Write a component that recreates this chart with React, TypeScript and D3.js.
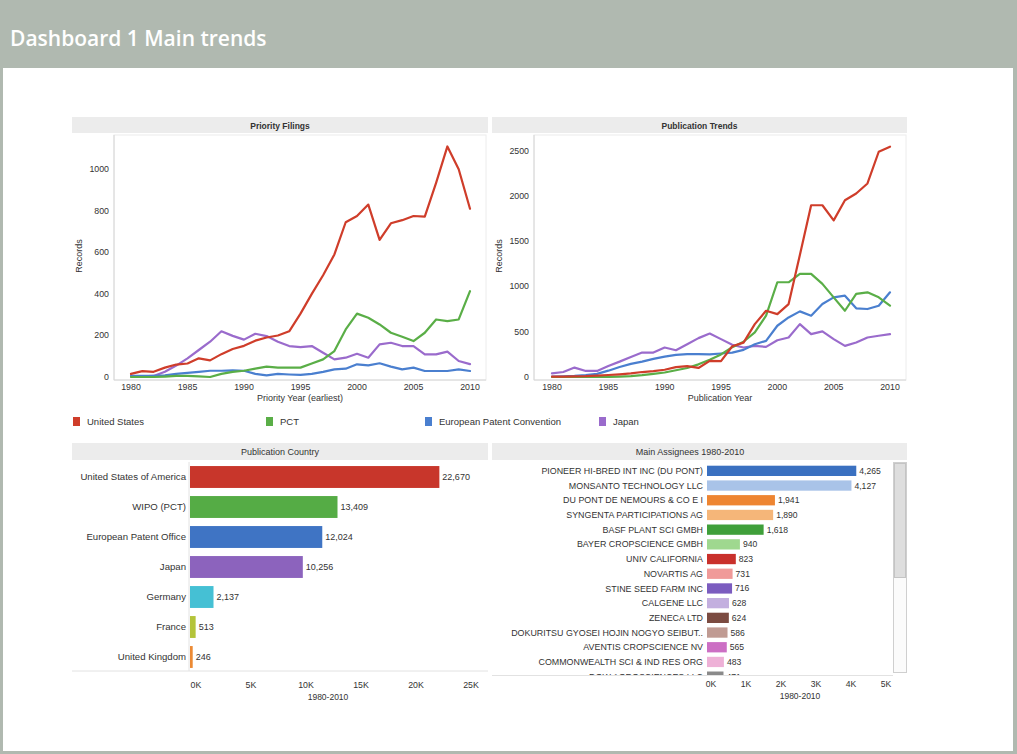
import * as d3 from "d3";

// ---- data ----
const years = [
  1980, 1981, 1982, 1983, 1984, 1985, 1986, 1987, 1988, 1989, 1990,
  1991, 1992, 1993, 1994, 1995, 1996, 1997, 1998, 1999, 2000,
  2001, 2002, 2003, 2004, 2005, 2006, 2007, 2008, 2009, 2010,
];

const seriesNames = ["United States", "PCT", "European Patent Convention", "Japan"];
const seriesColors = ["#cf3d2a", "#5aae47", "#4a7fcf", "#9a6bcc"];

const priorityUS = [15, 28, 25, 45, 60, 65, 90, 80, 110, 135, 150, 175, 190, 200, 220, 305, 400, 490, 590, 745, 775, 830, 660, 740, 755, 775, 772, 935, 1110, 1000, 810];
const priorityPCT = [0, 0, 0, 2, 5, 5, 3, 0, 15, 25, 30, 40, 50, 45, 45, 45, 65, 85, 125, 229, 305, 285, 253, 213, 194, 173, 213, 277, 269, 277, 413];
const priorityEPC = [5, 5, 5, 8, 15, 20, 25, 30, 30, 32, 30, 15, 8, 15, 12, 10, 15, 25, 37, 40, 61, 56, 66, 50, 37, 45, 29, 29, 29, 37, 29];
const priorityJP = [3, 3, 5, 25, 55, 90, 130, 170, 220, 198, 180, 208, 197, 170, 149, 144, 149, 117, 85, 93, 112, 93, 157, 165, 149, 149, 109, 109, 122, 77, 62];

const pubUS = [5, 5, 8, 10, 15, 22, 30, 40, 55, 65, 80, 110, 120, 100, 178, 175, 340, 380, 585, 733, 696, 807, 1350, 1900, 1900, 1733, 1955, 2030, 2141, 2492, 2548];
const pubPCT = [0, 0, 0, 0, 0, 2, 5, 10, 20, 35, 50, 75, 100, 140, 190, 250, 330, 390, 493, 678, 1048, 1048, 1141, 1141, 1030, 881, 733, 919, 937, 881, 789];
const pubEPC = [5, 8, 12, 20, 35, 70, 110, 145, 170, 200, 225, 245, 252, 252, 250, 260, 270, 300, 363, 400, 567, 659, 726, 678, 807, 881, 900, 760, 752, 789, 937];
const pubJP = [40, 55, 104, 67, 67, 122, 170, 222, 270, 270, 326, 296, 363, 430, 481, 419, 356, 326, 344, 333, 407, 437, 585, 474, 504, 419, 344, 381, 437, 456, 474];

const yearTicks = [1980, 1985, 1990, 1995, 2000, 2005, 2010];
const priorityTicks = [0, 200, 400, 600, 800, 1000];
const pubTicks = [0, 500, 1000, 1500, 2000, 2500];

const countryNames = ["United States of America", "WIPO (PCT)", "European Patent Office", "Japan", "Germany", "France", "United Kingdom"];
const countryValues = [22670, 13409, 12024, 10256, 2137, 513, 246];
const countryColors = ["#c8362b", "#55ac45", "#3f74c4", "#8c63bd", "#45c0d4", "#b4c43a", "#ec8a34"];
const countryTicks = [0, 5000, 10000, 15000, 20000, 25000];

const assigneeNames = [
  "PIONEER HI-BRED INT INC (DU PONT)",
  "MONSANTO TECHNOLOGY LLC",
  "DU PONT DE NEMOURS & CO E I",
  "SYNGENTA PARTICIPATIONS AG",
  "BASF PLANT SCI GMBH",
  "BAYER CROPSCIENCE GMBH",
  "UNIV CALIFORNIA",
  "NOVARTIS AG",
  "STINE SEED FARM INC",
  "CALGENE LLC",
  "ZENECA LTD",
  "DOKURITSU GYOSEI HOJIN NOGYO SEIBUT..",
  "AVENTIS CROPSCIENCE NV",
  "COMMONWEALTH SCI & IND RES ORG",
  "DOW AGROSCIENCES LLC",
];
const assigneeValues = [4265, 4127, 1941, 1890, 1618, 940, 823, 731, 716, 628, 624, 586, 565, 483, 471];
const assigneeColors = [
  "#3a70c0", "#a9c3e8", "#ee8531", "#f5b679", "#3f9f3a", "#9fd88f", "#c9302b", "#f09a99",
  "#7b5cbf", "#c3afdf", "#7b4b41", "#c09b93", "#cc6fc4", "#eeb1d7", "#8a8a8a",
];
const assigneeTicks = [0, 1000, 2000, 3000, 4000, 5000];

const FONT = "'Liberation Sans', Arial, sans-serif";
const TXT = "#333";

type LineProps = {
  panelX: number;
  panelW: number;
  plotL: number;
  plotR: number;
  x0: number;
  x1: number;
  yMax: number;
  yTicks: number[];
  title: string;
  xTitle: string;
  series: number[][];
};

function LinePanel({ panelX, panelW, plotL, plotR, x0, x1, yMax, yTicks, title, xTitle, series }: LineProps) {
  const plotT = 135;
  const plotB = 377;
  const x = d3.scaleLinear().domain([1980, 2010]).range([x0, x1]);
  const y = d3.scaleLinear().domain([0, yMax]).range([plotB, 140]);
  const line = d3
    .line<number>()
    .x((_, i) => x(years[i]))
    .y((d) => y(d));
  const order = [3, 2, 1, 0];
  return (
    <g>
      <rect x={panelX} y={117} width={panelW} height={16} fill="#ececec" />
      <text x={panelX + panelW / 2} y={128.5} textAnchor="middle" fontSize={8.5} fontWeight="bold" fill={TXT}>
        {title}
      </text>
      <rect x={plotL} y={plotT} width={plotR - plotL} height={plotB + 3 - plotT} fill="none" stroke="#ececec" />
      <line x1={plotL} x2={plotL} y1={plotT} y2={plotB + 3} stroke="#d6d6d6" />
      <line x1={plotL} x2={plotR} y1={plotB + 3} y2={plotB + 3} stroke="#d6d6d6" />
      {yTicks.map((t) => (
        <text key={t} x={plotL - 5} y={y(t)} dy="0.32em" textAnchor="end" fontSize={8.8} fill={TXT}>
          {t}
        </text>
      ))}
      {yearTicks.map((t) => (
        <text key={t} x={x(t)} y={plotB + 13} textAnchor="middle" fontSize={8.8} fill={TXT}>
          {t}
        </text>
      ))}
      <text
        transform={`translate(${panelX + 10},${(plotT + plotB) / 2}) rotate(-90)`}
        textAnchor="middle"
        fontSize={9}
        fill={TXT}
      >
        Records
      </text>
      <text x={(plotL + plotR) / 2} y={plotB + 24} textAnchor="middle" fontSize={9} fill={TXT}>
        {xTitle}
      </text>
      {order.map((k) => (
        <path
          key={k}
          d={line(series[k]) || ""}
          fill="none"
          stroke={seriesColors[k]}
          strokeWidth={2.2}
          strokeLinejoin="round"
          strokeLinecap="round"
        />
      ))}
    </g>
  );
}

function Legend() {
  const xs = [73, 266, 425, 599];
  return (
    <g>
      {seriesNames.map((n, i) => (
        <g key={n}>
          <rect x={xs[i]} y={417} width={7} height={9} fill={seriesColors[i]} />
          <text x={xs[i] + 14} y={424.5} fontSize={9.5} fill={TXT}>
            {n}
          </text>
        </g>
      ))}
    </g>
  );
}

function CountryPanel() {
  const y = d3.scaleBand<string>().domain(countryNames).range([462, 672]).paddingInner(0.27).paddingOuter(0.135);
  const x = d3.scaleLinear().domain([0, 25000]).range([190, 465]);
  const fmt = d3.format(",");
  return (
    <g>
      <rect x={72} y={443} width={416} height={17} fill="#ececec" />
      <text x={280} y={455} textAnchor="middle" fontSize={9} fill={TXT}>
        Publication Country
      </text>
      <line x1={189} x2={189} y1={462} y2={671} stroke="#e2e2e2" />
      <line x1={72} x2={488} y1={671} y2={671} stroke="#e2e2e2" />
      {countryNames.map((n, i) => (
        <g key={n}>
          <text x={186} y={(y(n) || 0) + y.bandwidth() / 2} dy="0.32em" textAnchor="end" fontSize={9.6} fill={TXT}>
            {n}
          </text>
          <rect
            x={x(0)}
            y={y(n)}
            width={x(countryValues[i]) - x(0)}
            height={y.bandwidth()}
            fill={countryColors[i]}
          />
          <text
            x={x(countryValues[i]) + 3}
            y={(y(n) || 0) + y.bandwidth() / 2}
            dy="0.32em"
            fontSize={9}
            fill={TXT}
          >
            {fmt(countryValues[i])}
          </text>
        </g>
      ))}
      {countryTicks.map((t) => (
        <text key={t} x={x(t) + 6} y={688} textAnchor="middle" fontSize={8.8} fill={TXT}>
          {t / 1000}K
        </text>
      ))}
      <text x={328} y={700} textAnchor="middle" fontSize={8.5} fill={TXT}>
        1980-2010
      </text>
    </g>
  );
}

function AssigneePanel() {
  const step = 14.7;
  const y = d3
    .scaleBand<string>()
    .domain(assigneeNames)
    .range([463.5, 463.5 + step * assigneeNames.length])
    .paddingInner(0.3)
    .paddingOuter(0.15);
  const x = d3.scaleLinear().domain([0, 5000]).range([707, 882]);
  const fmt = d3.format(",");
  return (
    <g>
      <defs>
        <clipPath id="assignee-clip">
          <rect x={490} y={461} width={403} height={214} />
        </clipPath>
      </defs>
      <rect x={492} y={443} width={415} height={17} fill="#ececec" />
      <text x={690} y={455} textAnchor="middle" fontSize={9} fill={TXT}>
        Main Assignees 1980-2010
      </text>
      <g clipPath="url(#assignee-clip)">
        {assigneeNames.map((n, i) => {
          const cy = (y(n) || 0) + y.bandwidth() / 2;
          return (
            <g key={n}>
              <text x={703} y={cy} dy="0.35em" textAnchor="end" fontSize={8.9} fill={TXT}>
                {n}
              </text>
              <rect
                x={x(0)}
                y={y(n)}
                width={x(assigneeValues[i]) - x(0)}
                height={y.bandwidth()}
                fill={assigneeColors[i]}
              />
              <text x={x(assigneeValues[i]) + 3} y={cy} dy="0.35em" fontSize={8.6} fill={TXT}>
                {fmt(assigneeValues[i])}
              </text>
            </g>
          );
        })}
      </g>
      <line x1={492} x2={893} y1={675.5} y2={675.5} stroke="#e2e2e2" />
      <rect x={893.5} y={462.5} width={13} height={210} fill="#fbfbfb" stroke="#cfcfcf" />
      <rect x={894.5} y={463.5} width={11} height={114} fill="#dedede" stroke="#c4c4c4" />
      {assigneeTicks.map((t) => (
        <text key={t} x={x(t) + 4} y={687} textAnchor="middle" fontSize={8.6} fill={TXT}>
          {t / 1000}K
        </text>
      ))}
      <text x={800} y={699} textAnchor="middle" fontSize={8.5} fill={TXT}>
        1980-2010
      </text>
    </g>
  );
}

export default function App() {
  return (
    <svg
      width={1017}
      height={754}
      style={{ position: "absolute", left: 0, top: 0, fontFamily: FONT }}
    >
      <rect x={0} y={0} width={1017} height={754} fill="#b0b9b0" />
      <rect x={3} y={68} width={1010} height={683} fill="#ffffff" />
      <text
        x={10}
        y={46}
        fill="#ffffff"
        fontSize={21}
        fontWeight={600}
        style={{ fontFamily: "'Open Sans', sans-serif" }}
      >
        Dashboard 1 Main trends
      </text>
      <LinePanel
        panelX={72}
        panelW={416}
        plotL={114}
        plotR={486}
        x0={131}
        x1={470}
        yMax={1141}
        yTicks={priorityTicks}
        title="Priority Filings"
        xTitle="Priority Year (earliest)"
        series={[priorityUS, priorityPCT, priorityEPC, priorityJP]}
      />
      <LinePanel
        panelX={492}
        panelW={415}
        plotL={534}
        plotR={906}
        x0={552}
        x1={890}
        yMax={2622}
        yTicks={pubTicks}
        title="Publication Trends"
        xTitle="Publication Year"
        series={[pubUS, pubPCT, pubEPC, pubJP]}
      />
      <Legend />
      <CountryPanel />
      <AssigneePanel />
    </svg>
  );
}
